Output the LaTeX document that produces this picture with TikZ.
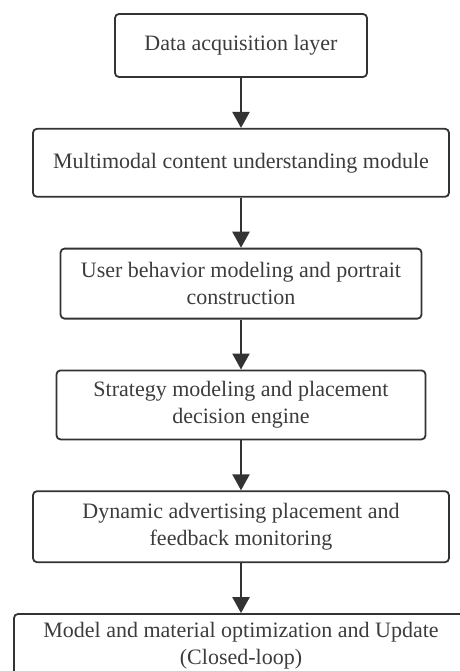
\documentclass[tikz,border=0pt]{standalone}
\usepackage{fontspec}
\setmainfont{Liberation Serif}
\usetikzlibrary{positioning,arrows.meta}
\definecolor{boxline}{HTML}{333333}
\definecolor{boxtext}{HTML}{3C3C3C}
\tikzset{
    stage/.style={draw=boxline, line width=1.8pt, rounded corners=4pt, align=center,
        text=boxtext, inner sep=0pt, font=\fontsize{22}{27}\selectfont},
    flow/.style={draw=boxline, line width=2.4pt, -{Triangle[width=17pt,length=16pt]}}
}
\begin{document}
\begin{tikzpicture}[node distance=50pt]
    \useasboundingbox (0pt,0pt) rectangle (459pt,-671pt);
    \node[stage, minimum width=252pt, minimum height=63pt] (acq) at (241pt,-45.5pt) {Data acquisition layer};
    \node[stage, minimum width=416pt, minimum height=68pt, below=of acq] (content) {Multimodal content understanding module};
    \node[stage, minimum width=361pt, minimum height=70pt, below=of content] (user) {User behavior modeling and portrait\\construction};
    \node[stage, minimum width=369pt, minimum height=69pt, below=of user] (strategy) {Strategy modeling and placement\\decision engine};
    \node[stage, minimum width=416pt, minimum height=71pt, below=of strategy] (placement) {Dynamic advertising placement and\\feedback monitoring};
    % last box runs past the page edge, text sits high in it
    \node[stage, minimum width=454pt, minimum height=76pt, text depth=18pt, below=of placement] (update) {Model and material optimization and Update\\(Closed-loop)};
    \draw[flow] (acq) -- (content);
    \draw[flow] (content) -- (user);
    \draw[flow] (user) -- (strategy);
    \draw[flow] (strategy) -- (placement);
    \draw[flow] (placement) -- (update);
\end{tikzpicture}
\end{document}
